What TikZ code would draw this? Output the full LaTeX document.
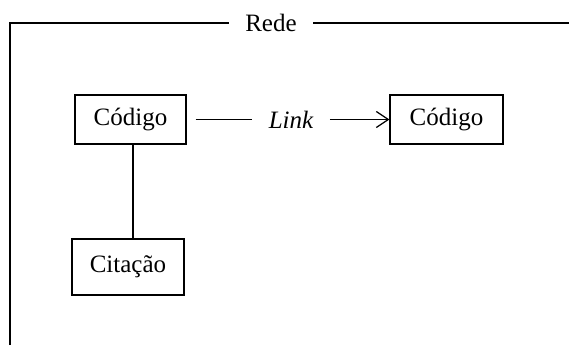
\documentclass[tikz,border=0pt]{standalone}
\usepackage{fontspec}
\setmainfont{Liberation Serif}
\usetikzlibrary{arrows.meta}
\begin{document}
\begin{tikzpicture}[x=1pt,y=1pt,
  line width=1.2pt,
  every node/.style={font=\fontsize{25}{29}\selectfont},
  entity/.style={draw, line width=1.2pt, inner sep=0pt, minimum height=49pt},
  barb/.style={-{Straight Barb[length=12pt,width=16pt,line width=1.2pt]}}
]
\useasboundingbox (0,0) rectangle (569,-345);

% frame around the network, titled "Rede"
\node[inner xsep=16pt, inner ysep=0pt] (rede) at (271,-23) {Rede};
\coordinate (bl) at (10,-345);
\coordinate (tl) at (10,-23);
\coordinate (tr) at (569,-23);
\draw (bl) -- (tl) -- (rede.west);
\draw (rede.east) -- (tr);

% code and citation boxes
\node[entity, minimum width=111pt] (cod1) at (130.5,-119.5) {Código};
\node[entity, minimum width=113pt] (cod2) at (446.5,-119.5) {Código};
\node[entity, minimum width=112pt, minimum height=56pt] (cit) at (128,-267) {Citação};

% labelled link between codes
\node[inner xsep=16pt, inner ysep=0pt] (link) at (291,-119.5) {\itshape Link};
\draw ([xshift=9pt]cod1.east) -- (link.west);
\draw[barb] (link.east) -- (cod2.west);

% code to citation
\coordinate (c1) at ([xshift=2.5pt]cod1.south);
\draw (c1) -- (c1 |- cit.north);
\end{tikzpicture}
\end{document}
